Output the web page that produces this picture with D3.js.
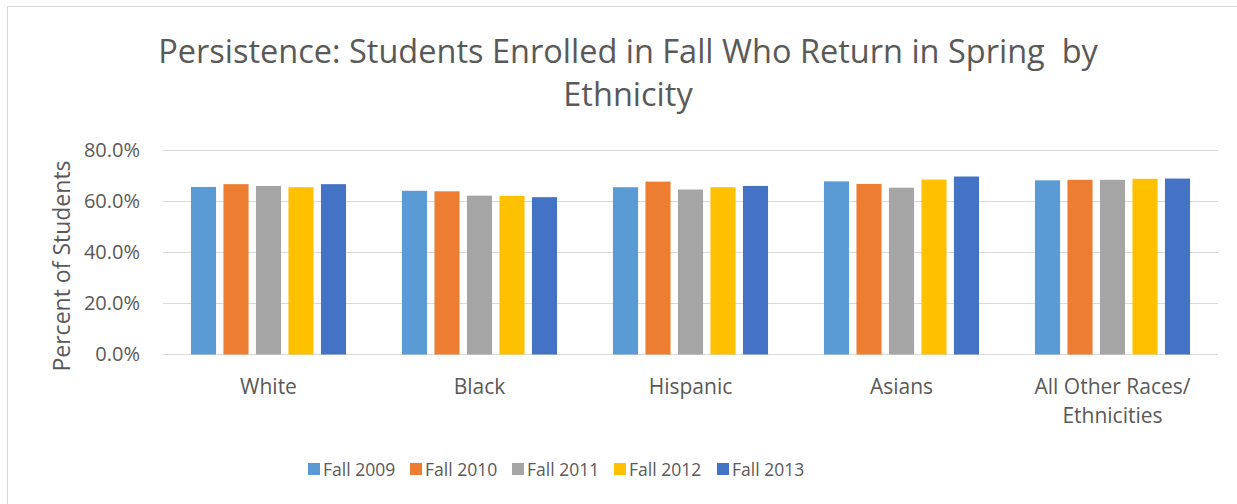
<!DOCTYPE html>
<html>
<head>
<meta charset="utf-8">
<script src="https://cdn.jsdelivr.net/npm/d3@7"></script>
<style>
  body { margin: 0; background: #fff; }
  text { font-family: "Open Sans", sans-serif; fill: #595959; }
</style>
</head>
<body>
<div id="chart"></div>
<script>
var categories = ["White", "Black", "Hispanic", "Asians", "All Other Races/ Ethnicities"];
var series = ["Fall 2009", "Fall 2010", "Fall 2011", "Fall 2012", "Fall 2013"];
var colors = ["#5B9BD5", "#ED7D31", "#A5A5A5", "#FFC000", "#4472C4"];
// percent values, one row per series, in category order
var fall2009 = [65.7, 64.2, 65.6, 67.9, 68.3];
var fall2010 = [66.8, 64.0, 67.8, 66.9, 68.5];
var fall2011 = [66.1, 62.3, 64.7, 65.4, 68.5];
var fall2012 = [65.6, 62.2, 65.6, 68.6, 68.9];
var fall2013 = [66.8, 61.7, 66.1, 69.8, 69.0];
var yTicks = [0, 20, 40, 60, 80];

var values = [fall2009, fall2010, fall2011, fall2012, fall2013];

var width = 1237, height = 504;
var margin = { top: 150, right: 19, bottom: 150, left: 163 };

var svg = d3.select("#chart").append("svg")
    .attr("width", width)
    .attr("height", height);

// chart border (only top/left visible in the crop)
svg.append("rect")
    .attr("x", 7.5).attr("y", 6.5)
    .attr("width", width + 20).attr("height", height + 20)
    .attr("fill", "none")
    .attr("stroke", "#d9d9d9");

var x0 = d3.scaleBand()
    .domain(categories)
    .range([margin.left, width - margin.right])
    .paddingInner(0.265)
    .paddingOuter(0.1325);

var x1 = d3.scaleBand()
    .domain(series)
    .range([0, x0.bandwidth()])
    .paddingInner(0.228);

var y = d3.scaleLinear()
    .domain([0, 80])
    .range([354.5, 150.5]);

// gridlines
svg.append("g")
    .selectAll("line")
    .data(yTicks)
    .enter().append("line")
    .attr("x1", margin.left)
    .attr("x2", width - margin.right)
    .attr("y1", function (d) { return y(d); })
    .attr("y2", function (d) { return y(d); })
    .attr("stroke", "#d9d9d9")
    .attr("stroke-width", 1);

// y tick labels
var yAxis = svg.append("g")
    .attr("transform", "translate(" + (margin.left - 10) + ",0)")
    .call(d3.axisLeft(y).tickValues(yTicks).tickSize(0).tickPadding(13)
        .tickFormat(function (d) { return d.toFixed(1) + "%"; }));
yAxis.select(".domain").remove();
yAxis.selectAll("text")
    .style("font-family", "'Open Sans', sans-serif")
    .style("font-size", "20px")
    .attr("fill", "#595959");

// bars
var groups = svg.append("g")
    .selectAll("g")
    .data(categories)
    .enter().append("g")
    .attr("transform", function (d) { return "translate(" + x0(d) + ",0)"; });

groups.selectAll("rect")
    .data(function (d, i) {
        return series.map(function (s, j) { return { s: s, v: values[j][i], c: colors[j] }; });
    })
    .enter().append("rect")
    .attr("x", function (d) { return x1(d.s); })
    .attr("width", x1.bandwidth())
    .attr("y", function (d) { return y(d.v); })
    .attr("height", function (d) { return y(0) - y(d.v); })
    .attr("fill", function (d) { return d.c; });

// category labels
var catLabels = svg.append("g")
    .selectAll("text")
    .data(categories)
    .enter().append("text")
    .attr("text-anchor", "middle")
    .attr("x", function (d) { return x0(d) + x0.bandwidth() / 2; })
    .attr("y", 394)
    .style("font-size", "21px");
catLabels.each(function (d) {
    var lines = d.split("/ ");
    var t = d3.select(this);
    lines.forEach(function (line, i) {
        t.append("tspan")
            .attr("x", t.attr("x"))
            .attr("dy", i === 0 ? 0 : 29)
            .text(line + (i < lines.length - 1 ? "/" : ""));
    });
});

// y axis title
svg.append("text")
    .attr("transform", "translate(70,266)rotate(-90)")
    .attr("text-anchor", "middle")
    .style("font-size", "23px")
    .text("Percent of Students");

// title
svg.append("text")
    .attr("x", 628)
    .attr("y", 63)
    .attr("text-anchor", "middle")
    .style("font-size", "32.5px")
    .text("Persistence: Students Enrolled in Fall Who Return in Spring \u00a0by");
svg.append("text")
    .attr("x", 628)
    .attr("y", 106)
    .attr("text-anchor", "middle")
    .style("font-size", "32.5px")
    .text("Ethnicity");

// legend
var legendX = [308, 410, 512, 614, 717];
var legend = svg.append("g")
    .selectAll("g")
    .data(series)
    .enter().append("g")
    .attr("transform", function (d, i) { return "translate(" + legendX[i] + ",463)"; });
legend.append("rect")
    .attr("width", 12).attr("height", 12)
    .attr("fill", function (d, i) { return colors[i]; });
legend.append("text")
    .attr("x", 15).attr("y", 13)
    .style("font-size", "17.5px")
    .text(function (d) { return d; });
</script>
</body>
</html>
